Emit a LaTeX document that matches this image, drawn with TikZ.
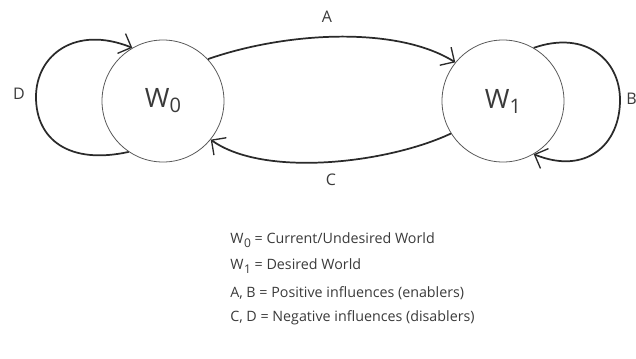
\documentclass[tikz,border=0pt]{standalone}
\usepackage{fontspec}
\setmainfont{Open Sans}
\usetikzlibrary{arrows.meta}
\definecolor{txt}{HTML}{3A3A3A}
\definecolor{ln}{HTML}{2A2A2A}
\newcommand{\lsub}[1]{\kern0.5pt\raisebox{-0.55ex}{\fontsize{9}{10}\selectfont #1}}
\tikzset{
  world/.style={circle, draw=gray!70!black, line width=0.6pt, minimum size=91.5pt, inner sep=0pt, text=txt, font=\fontsize{20}{24}\selectfont},
  conn/.style={draw=ln, line width=1.3pt, -{Straight Barb[length=8pt,width=16pt,line width=1pt]}},
  loopline/.style={draw=ln, line width=1.3pt},
  lbl/.style={text=txt, font=\fontsize{12}{14}\selectfont, inner sep=0pt},
  legend/.style={text=txt, font=\fontsize{10.7}{13}\selectfont, anchor=west, inner sep=0pt}
}
\begin{document}
\begin{tikzpicture}[x=0.75pt,y=-0.75pt]
\useasboundingbox (0,0) rectangle (636,358);
\node[world] (w0) at (163,101) {W\raisebox{-0.35ex}{\fontsize{15}{18}\selectfont 0}};
\node[world] (w1) at (503,101) {W\raisebox{-0.35ex}{\fontsize{15}{18}\selectfont 1}};
\coordinate (dl) at (36,97);
\coordinate (br) at (620,100);
% A
\draw[conn] (w0.43) .. controls +(77,-27) and +(-59,-37) .. (w1.141);
% C
\draw[conn] (w1.212) .. controls +(-64,30) and +(53,38) .. (w0.321);
% D
\draw[loopline] (w0.236) .. controls +(-59,13) and +(0,43) .. (dl);
\draw[conn] (dl) .. controls +(0,-42) and +(-57,-23) .. (w0.120);
% B
\draw[loopline] (w1.60) .. controls +(52,-18) and +(0,-40) .. (br);
\draw[conn] (br) .. controls +(0,45) and +(52,21) .. (w1.300);
\node[lbl] (la) at (327,17) {A};
\node[lbl] (lc) at (331,180) {C};
\node[lbl] (ld) at (19,94) {D};
\node[lbl, anchor=west] (lb) at (626,99) {B};
\node[legend] (l1) at (230,240) {W\lsub{0} = Current/Undesired World};
\node[legend] (l2) at (230,266) {W\lsub{1} = Desired World};
\node[legend] (l3) at (230,293) {A, B = Positive influences (enablers)};
\node[legend] (l4) at (230,318) {C, D = Negative influences (disablers)};
\end{tikzpicture}
\end{document}
